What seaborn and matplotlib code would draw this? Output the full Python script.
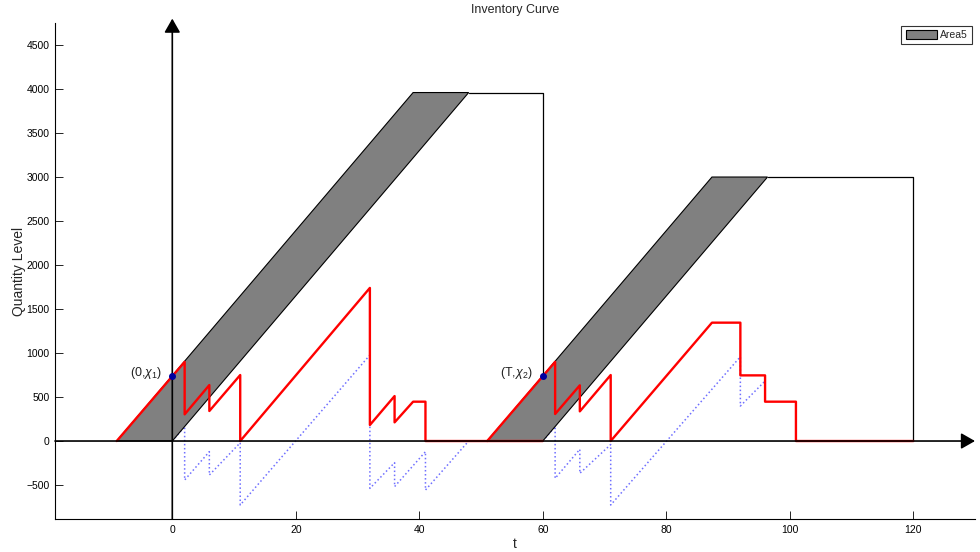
import matplotlib
matplotlib.use("Agg")
import matplotlib.pyplot as plt
import seaborn as sns
import pandas as pd

# ---- data ----
red1_t = [-9, 2, 2, 6, 6, 11, 11, 32, 32, 36, 36, 39, 41, 41, 60]
red1_q = [0, 900, 303, 636, 341, 750, 0, 1740, 182, 511, 212, 447, 447, 0, 0]
red2_t = [51, 62, 62, 66, 66, 71, 71, 87.4, 92, 92, 96, 96, 101, 101, 120]
red2_q = [0, 900, 307, 633, 337, 750, 0, 1345, 1345, 746, 746, 447, 447, 0, 0]

blue1_t = [0, 2, 2, 6, 6, 11, 11, 32, 32, 36, 36, 41, 41, 48]
blue1_q = [0, 165, -443, -121, -386, -20, -727, 977, -538, -246, -518, -121, -557, 0]
blue2_t = [60, 62, 62, 66, 66, 71, 71, 92, 92, 96]
blue2_q = [0, 165, -424, -94, -367, -40, -727, 958, 398, 682]

area1_t = [-9, 39, 48, 0]
area1_q = [0, 3960, 3960, 0]
area2_t = [51, 87.4, 96.4, 60]
area2_q = [0, 3000, 3000, 0]

cap1_t = [48, 60, 60]
cap1_q = [3960, 3960, 742]
cap2_t = [96.4, 120, 120]
cap2_q = [3000, 3000, 0]

pts_t = [0, 60]
pts_q = [742, 742]
pts_labels = ["(0,$\\chi_1$)", "(T,$\\chi_2$)"]

x_ticks = [0, 20, 40, 60, 80, 100, 120]
y_ticks = [-500, 0, 500, 1000, 1500, 2000, 2500, 3000, 3500, 4000, 4500]
x_lim = (-19, 130)
y_lim = (-886, 4750)

sns.set_theme(style="white")
plt.rcParams["font.family"] = ["Liberation Sans", "DejaVu Sans"]
plt.rcParams["mathtext.fontset"] = "custom"
plt.rcParams["mathtext.it"] = "Liberation Sans:italic"
plt.rcParams["mathtext.rm"] = "Liberation Sans"

fig = plt.figure(figsize=(9.8, 5.52), dpi=100)
ax = fig.add_axes([0.0561, 0.0598, 0.9388, 0.8985])

# blue dotted series (below fill)
for t, q in [(blue1_t, blue1_q), (blue2_t, blue2_q)]:
    df = pd.DataFrame({"t": t, "q": q})
    sns.lineplot(data=df, x="t", y="q", sort=False, estimator=None, ax=ax,
                 color="#6f6fff", linestyle=":", linewidth=1.1, zorder=1)

# gray areas
ax.fill(area1_t, area1_q, facecolor="#808080", edgecolor="black", linewidth=0.8,
        zorder=2, label="Area5")
ax.fill(area2_t, area2_q, facecolor="#808080", edgecolor="black", linewidth=0.8,
        zorder=2)
ax.plot(cap1_t, cap1_q, color="black", linewidth=0.9, zorder=2.5)
ax.plot(cap2_t, cap2_q, color="black", linewidth=0.9, zorder=2.5)

# red series
for t, q in [(red1_t, red1_q), (red2_t, red2_q)]:
    df = pd.DataFrame({"t": t, "q": q})
    sns.lineplot(data=df, x="t", y="q", sort=False, estimator=None, ax=ax,
                 color="#ff0000", linewidth=1.7, zorder=3)

ax.set_xlim(*x_lim)
ax.set_ylim(*y_lim)

# axis arrows
arrow_kw = dict(arrowstyle="-|>,head_length=0.42,head_width=0.24", color="black",
                lw=1.2, shrinkA=0, shrinkB=0, mutation_scale=20)
ax.annotate("", xy=(x_lim[1], 0), xytext=(x_lim[0], 0), xycoords="data",
            arrowprops=arrow_kw, annotation_clip=False, zorder=4)
ax.annotate("", xy=(0, 4800), xytext=(0, y_lim[0]), xycoords="data",
            arrowprops=arrow_kw, annotation_clip=False, zorder=4)

# points and labels
ax.plot(pts_t, pts_q, linestyle="none", marker="o", markersize=4,
        color="#0000a0", zorder=5)
for t, q, lab in zip(pts_t, pts_q, pts_labels):
    ax.text(t - 1.6, q + 30, lab, ha="right", va="center", fontsize=9, color="#222222")

ax.set_xticks(x_ticks)
ax.set_yticks(y_ticks)
ax.tick_params(direction="in", length=6, width=0.6, labelsize=7.5, colors="black",
               bottom=True, left=True, top=False, right=False, pad=4)
for s in ["top", "right"]:
    ax.spines[s].set_visible(False)
for s in ["left", "bottom"]:
    ax.spines[s].set_color("black")
    ax.spines[s].set_linewidth(0.8)

ax.set_title("Inventory Curve", fontsize=9, pad=7)
ax.set_xlabel("t", fontsize=10, labelpad=2)
ax.set_ylabel("Quantity Level", fontsize=10, labelpad=0)

leg = ax.legend(loc="upper right", fontsize=7.5, frameon=True, fancybox=False,
                borderaxespad=0.3, handlelength=3.0, handleheight=0.9,
                borderpad=0.4, handletextpad=0.3)
leg.get_frame().set_edgecolor("black")
leg.get_frame().set_linewidth(0.8)

fig.savefig("out.png", dpi=100)
